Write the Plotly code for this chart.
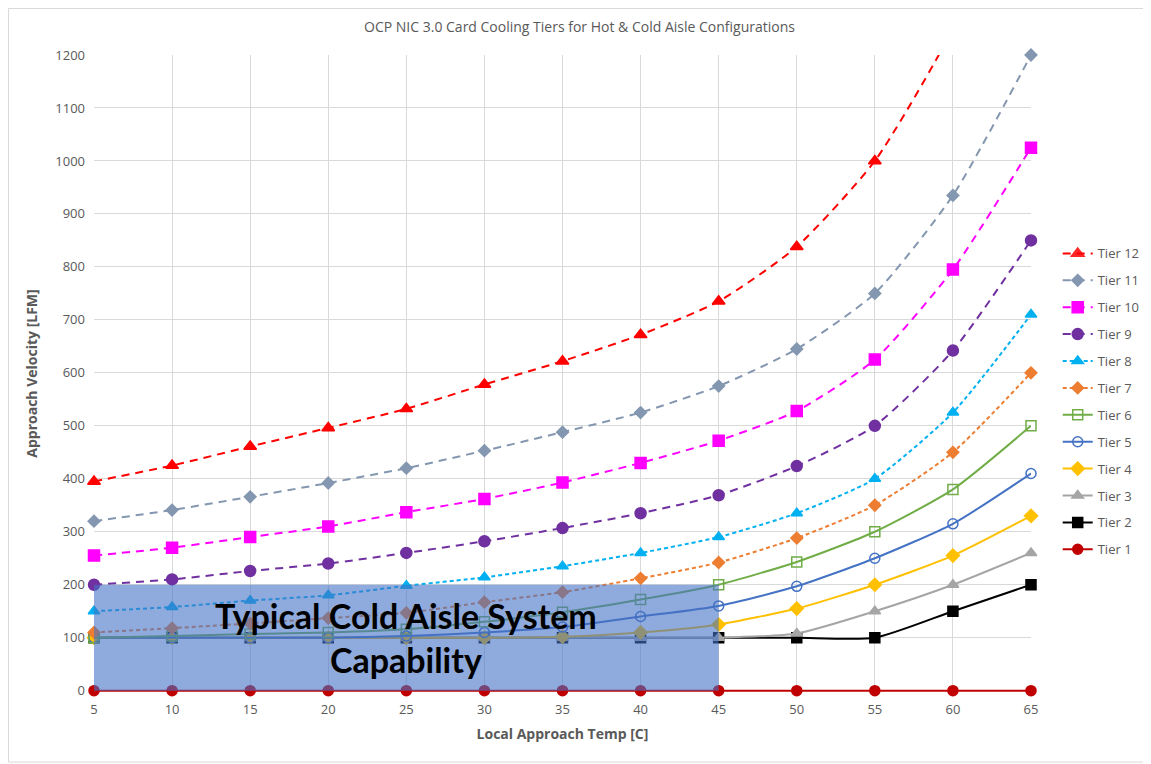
import plotly.graph_objects as go

temps = [5, 10, 15, 20, 25, 30, 35, 40, 45, 50, 55, 60, 65]

tier1 = [0, 0, 0, 0, 0, 0, 0, 0, 0, 0, 0, 0, 0]
tier2 = [100, 100, 100, 100, 100, 100, 100, 100, 100, 100, 100, 150, 200]
tier3 = [100, 100, 100, 100, 100, 100, 100, 100, 100, 108, 150, 200, 260]
tier4 = [100, 100, 100, 100, 100, 100, 102, 110, 125, 155, 200, 255, 330]
tier5 = [100, 100, 100, 100, 103, 110, 120, 140, 160, 197, 250, 315, 410]
tier6 = [100, 103, 107, 110, 116, 130, 148, 172, 200, 243, 300, 380, 500]
tier7 = [110, 118, 127, 137, 147, 167, 186, 212, 242, 288, 350, 450, 600]
tier8 = [150, 158, 170, 180, 198, 214, 235, 260, 290, 335, 400, 525, 710]
tier9 = [200, 210, 226, 240, 260, 282, 307, 335, 369, 424, 500, 642, 850]
tier10 = [255, 270, 290, 310, 337, 362, 393, 430, 472, 528, 625, 795, 1025]
tier11 = [320, 341, 366, 392, 420, 453, 488, 525, 575, 645, 750, 935, 1200]
tier12 = [395, 425, 461, 496, 532, 578, 622, 672, 735, 838, 1000, 1250, 1600]

Y_MAX = 1200

series = [
    ("Tier 1", tier1, "#C00000", "solid", "circle", 10),
    ("Tier 2", tier2, "#000000", "solid", "square", 10),
    ("Tier 3", tier3, "#A5A5A5", "solid", "triangle-up", 10),
    ("Tier 4", tier4, "#FFC000", "solid", "diamond", 10),
    ("Tier 5", tier5, "#4472C4", "solid", "circle-open", 10),
    ("Tier 6", tier6, "#70AD47", "solid", "square-open", 10),
    ("Tier 7", tier7, "#ED7D31", "4px,3px", "diamond", 9),
    ("Tier 8", tier8, "#00B0F0", "4px,3px", "triangle-up", 10),
    ("Tier 9", tier9, "#7030A0", "8px,6px", "circle", 11),
    ("Tier 10", tier10, "#FF00FF", "8px,6px", "square", 11),
    ("Tier 11", tier11, "#8497B0", "8px,6px", "diamond", 9),
    ("Tier 12", tier12, "#FF0000", "8px,6px", "triangle-up", 11),
]

fig = go.Figure()
n = len(series)
for i, (name, ys, color, dash, sym, size) in enumerate(series):
    # hide markers of points that fall above the visible axis range
    opac = [1 if v <= Y_MAX else 0 for v in ys]
    fig.add_trace(go.Scatter(
        x=temps, y=ys, name=name, mode="lines+markers",
        line=dict(color=color, width=2, dash=dash, shape="spline", smoothing=0.6),
        marker=dict(symbol=sym, size=size, color=color, opacity=opac,
                    line=dict(color=color, width=1.5)),
        legendgroup=f"g{i}", legendrank=n - i, cliponaxis=False,
    ))

fig.add_shape(type="rect", x0=5, x1=45, y0=0, y1=200, xref="x", yref="y",
              fillcolor="rgba(68,114,196,0.6)", line=dict(width=0), layer="above")
fig.add_annotation(x=25, y=100, xref="x", yref="y",
                   text="<b>Typical Cold Aisle System<br>Capability</b>",
                   showarrow=False, font=dict(family="Lato", size=34, color="black"),
                   align="center")

# outer chart border
fig.add_shape(type="rect", xref="paper", yref="paper",
              x0=-0.0912, x1=1.125, y0=-0.110, y1=1.073,
              line=dict(color="#D9D9D9", width=1), fillcolor="rgba(0,0,0,0)")

fig.update_layout(
    width=1143, height=756,
    margin=dict(l=86, r=120, t=47, b=72, autoexpand=False),
    paper_bgcolor="white", plot_bgcolor="white",
    title=dict(text="OCP NIC 3.0 Card Cooling Tiers for Hot & Cold Aisle Configurations",
               x=0.5, xanchor="center", y=0.975, yanchor="middle",
               font=dict(family="Open Sans", size=14, color="#595959")),
    font=dict(family="Open Sans", color="#595959", size=13),
    showlegend=True,
    legend=dict(x=1.0285, y=0.712, xanchor="left", yanchor="top",
                traceorder="grouped", tracegroupgap=7,
                font=dict(size=13, color="#595959"), bgcolor="rgba(0,0,0,0)"),
)
fig.update_xaxes(
    range=[5, 65], tickmode="array", tickvals=temps, ticktext=[str(t) for t in temps],
    showgrid=True, gridcolor="#D9D9D9", zeroline=False, showline=False,
    ticks="", ticklabelstandoff=8, tickfont=dict(size=13, color="#595959"),
    title=dict(text="<b>Local Approach Temp [C]</b>", font=dict(size=14, color="#595959"), standoff=12),
)
fig.update_yaxes(
    range=[-2.5, Y_MAX], tickmode="array", tickvals=list(range(0, 1201, 100)),
    showgrid=True, gridcolor="#D9D9D9",
    zeroline=False, showline=False, ticks="", ticklabelstandoff=8,
    tickfont=dict(size=13, color="#595959"),
    title=dict(text="<b>Approach Velocity [LFM]</b>", font=dict(size=14, color="#595959"), standoff=14),
)

fig.write_html("out.html")
